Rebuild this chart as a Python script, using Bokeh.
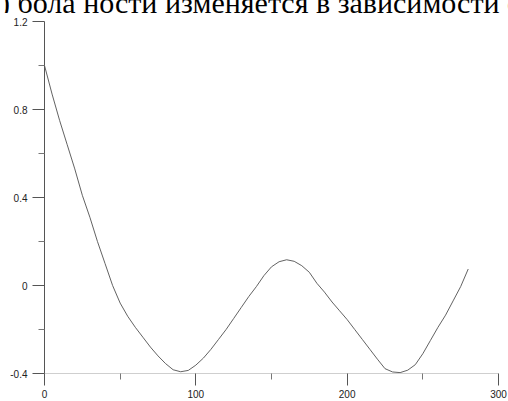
from bokeh.plotting import figure
from bokeh.layouts import column
from bokeh.models import Div, FixedTicker, Range1d
from bokeh.embed import file_html
from bokeh.resources import INLINE

# Curve samples
x_vals = [0, 5, 10, 15, 20, 25, 30, 35, 40, 45, 50, 55, 60, 65, 70, 75, 80, 85, 90,
          95, 100, 105, 110, 115, 120, 125, 130, 135, 140, 145, 150, 155, 160, 165,
          170, 175, 180, 185, 190, 195, 200, 205, 210, 215, 220, 225, 230, 235, 240,
          245, 250, 255, 260, 265, 270, 275, 280]
y_vals = [1.00, 0.87, 0.75, 0.64, 0.53, 0.41, 0.31, 0.20, 0.10, 0.00, -0.08, -0.14,
          -0.19, -0.235, -0.28, -0.32, -0.355, -0.383, -0.392, -0.386, -0.362, -0.33,
          -0.29, -0.245, -0.20, -0.15, -0.10, -0.05, -0.005, 0.045, 0.085, 0.108,
          0.117, 0.11, 0.09, 0.06, 0.01, -0.03, -0.075, -0.115, -0.155, -0.20, -0.245,
          -0.29, -0.335, -0.378, -0.393, -0.396, -0.385, -0.36, -0.31, -0.25, -0.19,
          -0.135, -0.07, -0.005, 0.075]

x_major = [0, 100, 200, 300]
x_minor = [50, 150, 250]
y_major = [-0.4, 0.0, 0.4, 0.8, 1.2]
y_minor = [-0.2, 0.2, 0.6, 1.0]

heading = ") бола ности изменяется в зависимости от"

# Line of running text above the chart, only its lower part inside the page
head = Div(
    text=('<div style="height:13px;overflow:hidden;white-space:nowrap;">'
          '<div style="font-family:\'Liberation Serif\';font-size:30px;'
          'line-height:30px;margin-top:-12px;color:#000;">' + heading +
          '</div></div>'),
    width=508, height=13, margin=0, styles={"overflow": "hidden"})

p = figure(width=508, height=388, output_backend="svg", toolbar_location=None,
           x_range=Range1d(0, 300), y_range=Range1d(-0.4, 1.2),
           min_border_left=44, min_border_right=10, min_border_top=8,
           min_border_bottom=28)
p.outline_line_color = None
p.grid.visible = False

p.line(x_vals, y_vals, line_color="#505050", line_width=0.9)

# x axis
xa = p.xaxis[0]
xa.ticker = FixedTicker(ticks=x_major, minor_ticks=x_minor)
xa.axis_line_color = "#cfcfcf"
xa.major_tick_line_color = "#555555"
xa.minor_tick_line_color = "#777777"
xa.major_tick_out = 12
xa.major_tick_in = 0
xa.minor_tick_out = 6
xa.minor_tick_in = 0
xa.major_label_standoff = 4
xa.major_label_text_font = "Liberation Sans"
xa.major_label_text_font_size = "10px"
xa.major_label_text_color = "#222222"

# y axis
ya = p.yaxis[0]
ya.ticker = FixedTicker(ticks=y_major, minor_ticks=y_minor)
ya.axis_line_color = "#555555"
ya.major_tick_line_color = "#555555"
ya.minor_tick_line_color = "#777777"
ya.major_tick_out = 12
ya.major_tick_in = 0
ya.minor_tick_out = 6
ya.minor_tick_in = 0
ya.major_label_standoff = 5
ya.major_label_text_font = "Liberation Sans"
ya.major_label_text_font_size = "10px"
ya.major_label_text_color = "#222222"
ya.major_label_overrides = {-0.4: "-0.4", 0.0: "0", 0.4: "0.4", 0.8: "0.8", 1.2: "1.2"}

layout = column(head, p, spacing=0)
open("out.html", "w").write(file_html(layout, INLINE))
